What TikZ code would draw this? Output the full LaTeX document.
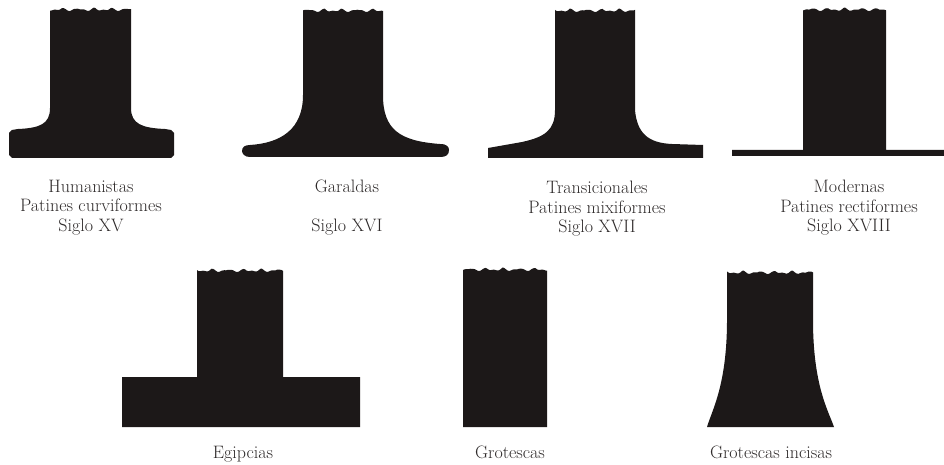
\documentclass[tikz,border=0pt]{standalone}
\usepackage{xcolor}
\usepackage{tikz}
\usetikzlibrary{calc, positioning}

\definecolor{tinta}{HTML}{1C1818}
\definecolor{letra}{HTML}{2E2A2A}

\tikzset{
    % borde superior irregular del asta
    cresta/.style n args={3}{insert path={-- plot[domain=#1:#2, samples=60] (\x, {#3 + 2.4*abs(sin((\x-#1)*11+#1)) + 0.7*sin((\x-#1)*37+2*#1)})}},
    asta/.style={fill=tinta, draw=none},
    rotulo/.style={font=\fontsize{18}{19.5}\selectfont, text=letra, align=center, inner sep=0pt, anchor=north}
}

\begin{document}
\begin{tikzpicture}[x=1pt, y=-1pt]
    \useasboundingbox (0,0) rectangle (944,465);

    % 1. Fila superior
    % Humanistas
    \fill[asta] (50,108) -- (50,11) [cresta={50}{131}{8}] -- (131,108)
        .. controls (131,124) and (142,128) .. (165,129) -- (171,130) -- (174,133)
        -- (174,155) -- (171,158) -- (12,158) -- (9,155) -- (9,133) -- (12,130)
        -- (18,129) .. controls (40,128) and (50,124) .. (50,108) -- cycle;
    % Garaldas
    \fill[asta] (303,95) -- (303,12) [cresta={303}{383}{9}] -- (383,95)
        .. controls (383,130) and (400,141) .. (440,144)
        .. controls (447,144) and (449,147) .. (449,150)
        .. controls (449,155) and (446,157) .. (440,157) -- (250,157)
        .. controls (245,157) and (242,154) .. (242,151)
        .. controls (242,147) and (245,145) .. (250,145)
        .. controls (280,143) and (303,130) .. (303,95) -- cycle;
    % Transicionales
    \fill[asta] (555,110) -- (555,12) [cresta={555}{635}{9}] -- (635,110)
        .. controls (637,133) and (648,143) .. (672,144) -- (703,145) -- (703,158)
        -- (488,158) -- (488,148) -- (522,142)
        .. controls (545,137) and (555,130) .. (555,110) -- cycle;
    % Modernas
    \fill[asta] (803,150) -- (803,11) [cresta={803}{886}{8}] -- (886,150)
        -- (944,150) -- (944,156) -- (732,156) -- (732,150) -- cycle;

    % 2. Fila inferior
    % Egipcias
    \fill[asta] (197,377) -- (197,272) [cresta={197}{283}{269}] -- (283,377)
        -- (360,377) -- (360,427) -- (122,427) -- (122,377) -- cycle;
    % Grotescas
    \fill[asta] (463,427) -- (463,271) [cresta={463}{547}{268}] -- (547,427) -- cycle;
    % Grotescas incisas
    \fill[asta] (707,427) .. controls (712,410) and (727,385) .. (727,320) -- (727,274)
        [cresta={727}{813}{271}] -- (813,320)
        .. controls (813,385) and (828,410) .. (834,427) -- cycle;

    % 3. Rótulos
    \node[rotulo] (humanistas) at (91,180) {Humanistas\\Patines curviformes\\Siglo XV};
    \node[rotulo] (garaldas) at (347,180) {Garaldas\\\mbox{}\\Siglo XVI};
    \node[rotulo] (transicionales) at (597,181) {Transicionales\\Patines mixiformes\\Siglo XVII};
    \node[rotulo] (modernas) at (849,180) {Modernas\\Patines rectiformes\\Siglo XVIII};
    \node[rotulo] (egipcias) at (243,446) {Egipcias};
    \node[rotulo] (grotescas) at (510,446) {Grotescas};
    \node[rotulo] (incisas) at (771,446) {Grotescas incisas};
\end{tikzpicture}
\end{document}
